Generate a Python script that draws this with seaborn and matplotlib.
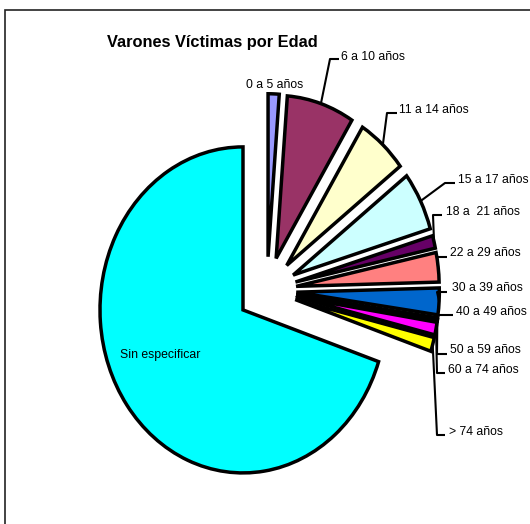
import matplotlib
matplotlib.use("Agg")
import matplotlib.pyplot as plt
import numpy as np
import seaborn as sns
from matplotlib.patches import Rectangle

# datos (victimas varones por grupo de edad)
grupos = ["0 a 5 años", "6 a 10 años", "11 a 14 años", "15 a 17 años", "18 a  21 años",
          "22 a 29 años", "30 a 39 años", "40 a 49 años", "50 a 59 años", "60 a 74 años",
          "> 74 años", "Sin especificar"]
victimas = [9, 55, 41, 42, 9, 21, 19, 1, 1, 9, 10, 503]
colores = ["#9999FF", "#993366", "#FFFFCC", "#CCFFFF", "#660066", "#FF8080",
           "#0066CC", "#CCCCFF", "#000080", "#FF00FF", "#FFFF00", "#00FFFF"]
titulo = "Varones Víctimas por Edad"

W, H = 530, 524

# layout de etiquetas en pixeles: (x inicio tramo, x fin tramo, y tramo, x texto, y texto)
# None -> sin linea guia
etiquetas_pos = [
    None,
    (330, 339, 59, 341, 57),
    (387, 397, 113, 399, 110),
    (445, 455, 183, 458, 180),
    (433, 442, 215, 446, 212),
    (437, 447, 257, 450, 253),
    (437, 447, 292, 452, 288),
    (437, 453, 315, 456, 312),
    (437, 447, 354, 450, 350),
    (437, 445, 373, 448, 370),
    (437, 445, 435, 449, 432),
    None,
]

sns.set_style("white")
plt.rcParams["font.family"] = ["Liberation Sans", "DejaVu Sans"]
plt.rcParams["text.color"] = "black"

fig = plt.figure(figsize=(W / 100, H / 100), dpi=100)
ax = fig.add_axes([0, 0, 1, 1])

explode = [0.206] * len(victimas)
wedges, _ = ax.pie(victimas, colors=colores, startangle=90, counterclock=False,
                   explode=explode,
                   wedgeprops=dict(edgecolor="black", linewidth=2.5, joinstyle="miter"))
ax.set_aspect("auto")
# radio 143 px en x, 163 px en y; centro en (266.9, 290.3)
cx, cy, rx, ry = 266.9, 290.3, 143.0, 163.0
ax.set_xlim(-cx / rx, (W - cx) / rx)
ax.set_ylim(-(H - cy) / ry, cy / ry)
ax.axis("off")


def px2data(x, y):
    return ax.transData.inverted().transform((x, H - y))


for w, pos in zip(wedges, etiquetas_pos):
    if pos is None:
        continue
    x0, x1, ys, xt, yt = pos
    m = np.deg2rad((w.theta1 + w.theta2) / 2)
    anchor = (w.center[0] + np.cos(m), w.center[1] + np.sin(m))
    p0 = px2data(x0, ys)
    p1 = px2data(x1, ys)
    ax.plot([anchor[0], p0[0], p1[0]], [anchor[1], p0[1], p1[1]],
            color="black", lw=1.5, solid_capstyle="butt", clip_on=False)

for g, pos in zip(grupos, etiquetas_pos):
    if pos is None:
        continue
    xt, yt = pos[3], pos[4]
    fig.text(xt / W, 1 - yt / H, g, ha="left", va="center", fontsize=8.8)

fig.text(246 / W, 1 - 85 / H, grupos[0], ha="left", va="center", fontsize=8.8)
fig.text(120 / W, 1 - 355 / H, grupos[-1], ha="left", va="center", fontsize=8.8)

fig.text(212 / W, 1 - 42 / H, titulo, ha="center", va="center", fontsize=11.8,
         fontweight="bold")

# marco del area del grafico
fig.patches.append(Rectangle((5 / W, -0.1), 1.2, 1 - 10 / H + 0.1, transform=fig.transFigure,
                             fill=False, edgecolor="#222222", lw=1.2))

fig.savefig("out.png", dpi=100, facecolor="white")
